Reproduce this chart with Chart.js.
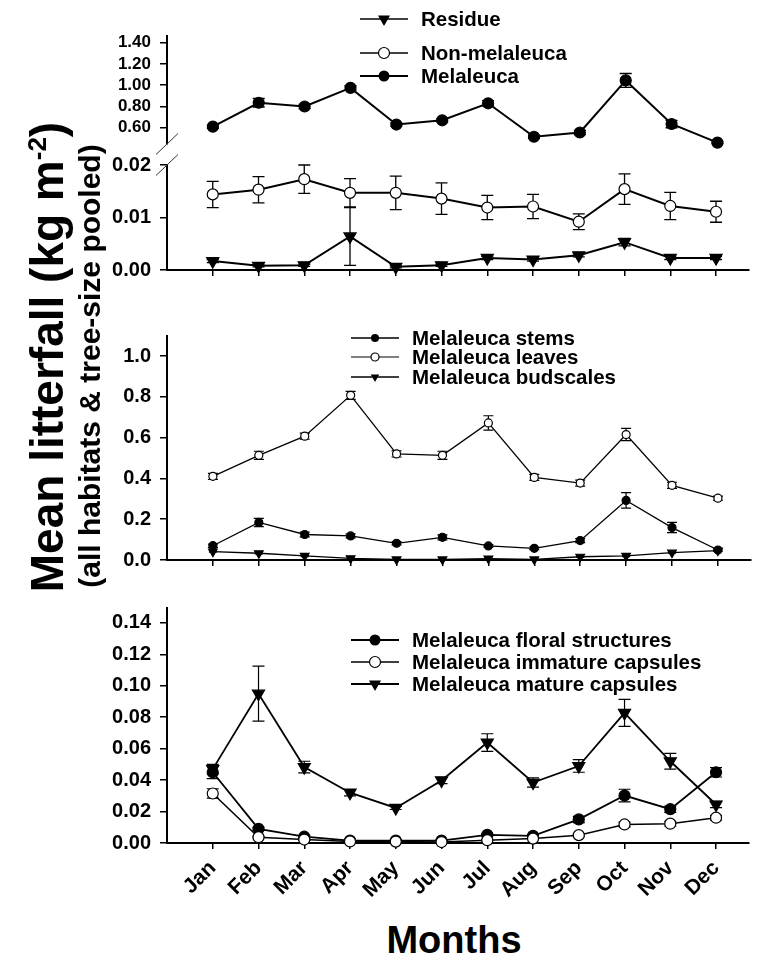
<!DOCTYPE html>
<html><head><meta charset="utf-8">
<script src="https://cdn.jsdelivr.net/npm/chart.js@4.4.1/dist/chart.umd.min.js"></script>
<style>
html,body{margin:0;padding:0;background:#fff;}
body{width:757px;height:962px;position:relative;overflow:hidden;font-family:"Liberation Sans",Arial,Helvetica,sans-serif;font-weight:bold;color:#000;}
canvas.cv{position:absolute;left:0;}
.lg{position:absolute;font-size:20.5px;line-height:20px;height:20px;white-space:nowrap;display:flex;align-items:center;z-index:5;}
.lg svg{display:block;flex:none;}
.lg span{margin-left:13px;}
.rot{position:absolute;white-space:nowrap;text-align:center;transform:rotate(-90deg);transform-origin:50% 50%;z-index:5;}
</style></head>
<body>
<canvas id="cA" class="cv"></canvas>
<canvas id="cB" class="cv"></canvas>
<canvas id="cC" class="cv"></canvas>
<canvas id="cD" class="cv"></canvas>
<div class="rot" id="yt1" style="font-size:46px;line-height:46px;width:600px;height:46px;left:-253px;top:334px;">Mean litterfall (kg m<sup style="font-size:26px;line-height:0;vertical-align:17px;">-2</sup>)</div>
<div class="rot" id="yt2" style="font-size:30px;line-height:30px;width:600px;height:30px;left:-210px;top:351px;">(all habitats &amp; tree-size pooled)</div>
<div id="xt" style="position:absolute;left:254px;width:400px;text-align:center;top:921px;font-size:38px;line-height:38px;">Months</div>
<script>
// ---------- data ----------
const months = ['Jan','Feb','Mar','Apr','May','Jun','Jul','Aug','Sep','Oct','Nov','Dec'];

// top panel (upper section)
const melaleuca    = [0.61, 0.835, 0.80, 0.975, 0.63, 0.67, 0.83, 0.515, 0.555, 1.045, 0.635, 0.46];
const melaleucaErr = [0.015, 0.04, 0.02, 0.02, 0.015, 0.015, 0.025, 0.015, 0.02, 0.065, 0.035, 0.01];
// top panel (lower section)
const nonMelaleuca    = [0.0144, 0.0153, 0.0173, 0.0147, 0.0147, 0.0136, 0.0119, 0.0121, 0.0092, 0.0154, 0.0122, 0.0111];
const nonMelaleucaErr = [0.0025, 0.0025, 0.0027, 0.0027, 0.0032, 0.0030, 0.0023, 0.0023, 0.0015, 0.0029, 0.0026, 0.0020];
const residue    = [0.0017, 0.0008, 0.0009, 0.0064, 0.0006, 0.0009, 0.0023, 0.0020, 0.0028, 0.0053, 0.0023, 0.0023];
const residueErr = [0.0003, 0.0002, 0.0002, 0.0055, 0.0002, 0.0002, 0.0003, 0.0003, 0.0003, 0.0007, 0.0003, 0.0003];
// middle panel
const stems    = [0.070, 0.184, 0.125, 0.118, 0.082, 0.111, 0.069, 0.057, 0.095, 0.292, 0.159, 0.049];
const stemsErr = [0.008, 0.020, 0.012, 0.010, 0.008, 0.012, 0.006, 0.006, 0.010, 0.038, 0.025, 0.006];
const leaves    = [0.410, 0.513, 0.607, 0.807, 0.520, 0.513, 0.672, 0.405, 0.377, 0.615, 0.366, 0.303];
const leavesErr = [0.015, 0.020, 0.015, 0.020, 0.015, 0.020, 0.035, 0.015, 0.015, 0.030, 0.015, 0.010];
const budscales    = [0.041, 0.033, 0.020, 0.008, 0.003, 0.003, 0.007, 0.003, 0.016, 0.020, 0.036, 0.046];
const budscalesErr = [0.003, 0.003, 0.003, 0.002, 0.002, 0.002, 0.002, 0.002, 0.003, 0.003, 0.003, 0.003];
// bottom panel
const floral    = [0.0450, 0.0090, 0.0040, 0.0015, 0.0015, 0.0015, 0.0052, 0.0045, 0.0150, 0.0302, 0.0215, 0.0450];
const floralErr = [0.0040, 0.0010, 0.0008, 0.0005, 0.0005, 0.0005, 0.0008, 0.0008, 0.0020, 0.0040, 0.0020, 0.0030];
const immature    = [0.0315, 0.0037, 0.0022, 0.0010, 0.0009, 0.0006, 0.0018, 0.0028, 0.0050, 0.0118, 0.0123, 0.0161];
const immatureErr = [0.0030, 0.0005, 0.0005, 0.0003, 0.0003, 0.0003, 0.0004, 0.0005, 0.0008, 0.0015, 0.0015, 0.0015];
const mature    = [0.0470, 0.0950, 0.0483, 0.0320, 0.0223, 0.0398, 0.0639, 0.0385, 0.0490, 0.0828, 0.0520, 0.0245];
const matureErr = [0.0030, 0.0175, 0.0037, 0.0020, 0.0010, 0.0020, 0.0056, 0.0030, 0.0040, 0.0086, 0.0050, 0.0020];

// tick labels
const ticksTopUpper = [0.60, 0.80, 1.00, 1.20, 1.40];
const ticksTopLower = [0.00, 0.01, 0.02];
const ticksMiddle   = [0.0, 0.2, 0.4, 0.6, 0.8, 1.0];
const ticksBottom   = [0.00, 0.02, 0.04, 0.06, 0.08, 0.10, 0.12, 0.14];

// ---------- helpers ----------
Chart.defaults.font.family = '"Liberation Sans", Arial, Helvetica, sans-serif';
Chart.defaults.font.weight = 'bold';
Chart.defaults.color = '#000';

const pts = arr => arr.map((v, i) => ({x: i + 1, y: v}));

const errorBarPlugin = {
  id: 'errorBars',
  beforeDatasetsDraw(chart) {
    const ctx = chart.ctx, ys = chart.scales.y;
    chart.data.datasets.forEach((ds, i) => {
      if (!ds.errorBars) return;
      const meta = chart.getDatasetMeta(i);
      ctx.save();
      ctx.strokeStyle = '#000';
      ctx.lineWidth = ds.errWidth || 1.2;
      const c = ds.capHalf || 6;
      meta.data.forEach((el, j) => {
        const e = ds.errorBars[j];
        if (!e) return;
        const v = ds.data[j].y;
        const yt = ys.getPixelForValue(v + e), yb = ys.getPixelForValue(v - e);
        const x = el.x;
        ctx.beginPath();
        ctx.moveTo(x, yt); ctx.lineTo(x, yb);
        ctx.moveTo(x - c, yt); ctx.lineTo(x + c, yt);
        ctx.moveTo(x - c, yb); ctx.lineTo(x + c, yb);
        ctx.stroke();
      });
      ctx.restore();
    });
  }
};

const breakPlugin = {
  id: 'axisBreak',
  afterDraw(chart, args, opts) {
    if (!opts || !opts.where) return;
    const ctx = chart.ctx, a = chart.chartArea;
    const y = opts.where === 'bottom' ? a.bottom : a.top;
    const x = a.left;
    ctx.save();
    ctx.strokeStyle = '#333';
    ctx.lineWidth = 1;
    ctx.beginPath();
    ctx.moveTo(x - 11, y + 10.5);
    ctx.lineTo(x + 11, y - 10.5);
    ctx.stroke();
    ctx.restore();
  }
};

function ds(label, data, err, style) {
  const base = {
    label, data: pts(data), errorBars: err,
    borderColor: '#000', borderWidth: style.lw, tension: 0, clip: false,
    pointBorderColor: '#000', pointBorderWidth: 1.2,
    pointRadius: style.r, pointHoverRadius: style.r,
    capHalf: style.cap, errWidth: style.ew, order: style.order || 0
  };
  if (style.m === 'filled') { base.pointStyle = 'circle'; base.pointBackgroundColor = '#000'; }
  if (style.m === 'open') { base.pointStyle = 'circle'; base.pointBackgroundColor = '#fff'; }
  if (style.m === 'tri') { base.pointStyle = 'triangle'; base.pointRotation = 180; base.pointBackgroundColor = '#000'; }
  return base;
}

const PAD_TOP = 25;
function makeChart(id, areaTop, areaBottom, datasets, yCfg, xCfg, brk) {
  const cv = document.getElementById(id);
  const top = areaTop - PAD_TOP;
  const padBottom = xCfg.display ? xCfg.pb : 25;
  const xh = xCfg.display ? xCfg.h : 0;
  const height = areaBottom + xh + padBottom - top;
  cv.width = 757; cv.height = height;
  cv.style.top = top + 'px';
  cv.style.width = '757px'; cv.style.height = height + 'px';
  const xs = {
    type: 'linear', min: 0, max: 12.716,
    display: xCfg.display,
    afterBuildTicks: s => { s.ticks = months.map((m, i) => ({value: i + 1})); },
    ticks: {
      display: !!xCfg.labels, autoSkip: false, minRotation: 45, maxRotation: 45,
      font: {size: 21, weight: 'bold'}, padding: 7,
      callback: v => months[Math.round(v) - 1]
    },
    grid: {display: true, drawOnChartArea: false, drawTicks: true, tickLength: 6, color: '#000', lineWidth: 1.5},
    border: {display: true, color: '#000', width: 2},
    afterFit: s => { s.height = xh; }
  };
  const ys = {
    type: 'linear', min: yCfg.min, max: yCfg.max,
    afterBuildTicks: s => { s.ticks = yCfg.ticks.map(v => ({value: v})); },
    ticks: {font: {size: yCfg.fs, weight: 'bold'}, padding: 9, callback: v => Number(v).toFixed(yCfg.dec)},
    grid: {display: true, drawOnChartArea: false, drawTicks: true, tickLength: 7, color: '#000', lineWidth: 1.5},
    border: {display: true, color: '#000', width: 2},
    afterFit: s => { s.width = 167; }
  };
  return new Chart(cv, {
    type: 'line',
    data: {datasets},
    options: {
      responsive: false, animation: false, devicePixelRatio: 1,
      layout: {padding: {top: PAD_TOP, bottom: padBottom, left: 0, right: 0}},
      plugins: {legend: {display: false}, tooltip: {enabled: false}, axisBreak: {where: brk}},
      scales: {x: xs, y: ys}
    },
    plugins: [errorBarPlugin, breakPlugin]
  });
}

// ---------- charts ----------
makeChart('cA', 36, 144, [
  ds('Melaleuca', melaleuca, melaleucaErr, {m: 'filled', r: 5.5, lw: 2, cap: 6, ew: 1.3})
], {min: 0.447, max: 1.463, ticks: ticksTopUpper, dec: 2, fs: 17}, {display: false}, 'bottom');

makeChart('cB', 165, 270, [
  ds('Non-melaleuca', nonMelaleuca, nonMelaleucaErr, {m: 'open', r: 5.5, lw: 2, cap: 6, ew: 1.3, order: 0}),
  ds('Residue', residue, residueErr, {m: 'tri', r: 7, lw: 2, cap: 6, ew: 1.3, order: 1})
], {min: 0, max: 0.02, ticks: ticksTopLower, dec: 2, fs: 20}, {display: true, labels: false, h: 10, pb: 16}, 'top');

makeChart('cC', 336, 560, [
  ds('Melaleuca leaves', leaves, leavesErr, {m: 'open', r: 4, lw: 1.3, cap: 5, ew: 1.2, order: 0}),
  ds('Melaleuca stems', stems, stemsErr, {m: 'filled', r: 4, lw: 1.3, cap: 5, ew: 1.2, order: 1}),
  ds('Melaleuca budscales', budscales, budscalesErr, {m: 'tri', r: 5, lw: 1.3, cap: 4, ew: 1.2, order: 2})
], {min: 0, max: 1.098, ticks: ticksMiddle, dec: 1, fs: 20}, {display: true, labels: false, h: 10, pb: 16}, null);

makeChart('cD', 608, 843, [
  ds('Melaleuca immature capsules', immature, immatureErr, {m: 'open', r: 5.5, lw: 1.5, cap: 6, ew: 1.2, order: 0}),
  ds('Melaleuca floral structures', floral, floralErr, {m: 'filled', r: 5.5, lw: 1.8, cap: 6, ew: 1.2, order: 1}),
  ds('Melaleuca mature capsules', mature, matureErr, {m: 'tri', r: 7, lw: 1.8, cap: 6, ew: 1.2, order: 2})
], {min: 0, max: 0.1495, ticks: ticksBottom, dec: 2, fs: 20}, {display: true, labels: true, h: 62, pb: 4}, null);

// ---------- legends (HTML) ----------
function marker(m, r) {
  const cx = 24, cy = 10;
  if (m === 'filled') return `<circle cx="${cx}" cy="${cy}" r="${r}" fill="#000"/>`;
  if (m === 'open') return `<circle cx="${cx}" cy="${cy}" r="${r}" fill="#fff" stroke="#000" stroke-width="1.2"/>`;
  const h = r * 0.5, w = r * 0.866;
  return `<polygon points="${cx - w},${cy - h} ${cx + w},${cy - h} ${cx},${cy + r}" fill="#000"/>`;
}
function legendRow(x, y, label, m, r, lw) {
  const d = document.createElement('div');
  d.className = 'lg';
  d.style.left = x + 'px';
  d.style.top = (y - 10) + 'px';
  d.innerHTML = `<svg width="48" height="20"><line x1="0" y1="10" x2="48" y2="10" stroke="#000" stroke-width="${lw}"/>${marker(m, r)}</svg><span>${label}</span>`;
  document.body.appendChild(d);
}
legendRow(360, 19, 'Residue', 'tri', 7, 1.5);
legendRow(360, 53, 'Non-melaleuca', 'open', 5.5, 1.5);
legendRow(360, 76, 'Melaleuca', 'filled', 5.5, 2);

legendRow(351, 338, 'Melaleuca stems', 'filled', 4, 1.3);
legendRow(351, 357, 'Melaleuca leaves', 'open', 4, 1.2);
legendRow(351, 377, 'Melaleuca budscales', 'tri', 5, 1.3);

legendRow(351, 640, 'Melaleuca floral structures', 'filled', 5.5, 2);
legendRow(351, 662, 'Melaleuca immature capsules', 'open', 5.5, 1.3);
legendRow(351, 684, 'Melaleuca mature capsules', 'tri', 7, 1.8);
</script>
</body></html>
